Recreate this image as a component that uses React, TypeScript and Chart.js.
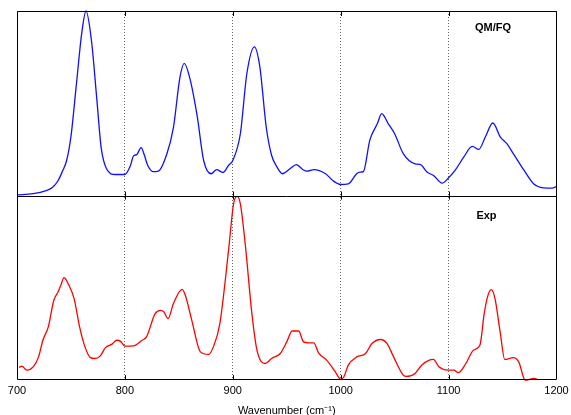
import React, { useEffect, useRef } from "react";
import { Chart, registerables } from "chart.js";

Chart.register(...registerables);

const xTickValues = [700, 800, 900, 1000, 1100, 1200];

const qmWavenumbers = [
  700, 715, 727, 733, 738, 742, 746, 750, 755, 760, 764, 769, 774, 778, 783, 791,
  800, 805, 808, 811, 815, 818, 821, 826, 831, 839, 845, 851, 855, 860, 867, 873,
  880, 885, 891, 896, 900, 907, 913, 920, 925, 931, 936, 941, 946, 953, 959, 965,
  969, 975, 986, 993, 1000, 1007, 1015, 1018, 1021, 1027, 1034, 1038, 1044, 1050,
  1058, 1069, 1074, 1080, 1086, 1094, 1100, 1106, 1114, 1122, 1128, 1134, 1141,
  1148, 1154, 1160, 1170, 1179, 1188, 1196, 1200,
];
const qmIntensity = [
  0.004, 0.01, 0.027, 0.045, 0.08, 0.13, 0.19, 0.32, 0.6, 0.88, 1.0, 0.84, 0.52, 0.26, 0.145, 0.114,
  0.114, 0.16, 0.215, 0.222, 0.26, 0.22, 0.165, 0.13, 0.133, 0.228, 0.37, 0.64, 0.716, 0.64, 0.43, 0.19,
  0.118, 0.14, 0.125, 0.163, 0.19, 0.335, 0.66, 0.806, 0.7, 0.37, 0.217, 0.154, 0.118, 0.145, 0.168, 0.14,
  0.132, 0.141, 0.118, 0.08, 0.06, 0.063, 0.12, 0.127, 0.13, 0.3, 0.39, 0.444, 0.39, 0.335,
  0.227, 0.172, 0.168, 0.127, 0.109, 0.067, 0.096, 0.136, 0.208, 0.266, 0.25, 0.317, 0.393,
  0.317, 0.281, 0.227, 0.136, 0.063, 0.042, 0.04, 0.049,
];

const expWavenumbers = [
  702, 704.5, 709, 715, 720, 724, 729, 734, 738, 741, 743.6, 747.6, 753, 758, 763, 768,
  772, 777, 782, 788, 792.5, 796, 800, 808, 816, 820, 828, 833, 836, 840, 845, 853,
  856, 862, 870, 877.5, 882, 888, 896, 900.7, 904, 907, 911.5, 917.7, 922.4, 930, 936, 944,
  950, 955, 961, 965.6, 970, 975, 979.5, 987, 995, 1000, 1003, 1007, 1015, 1023,
  1029, 1037, 1043, 1049, 1058, 1061, 1069, 1075, 1086, 1091, 1099, 1105, 1109, 1116,
  1123, 1129, 1133, 1136, 1139.5, 1143, 1148, 1152, 1160, 1165, 1171, 1179, 1182,
];
const expIntensity = [
  0.069, 0.076, 0.054, 0.072, 0.126, 0.216, 0.288, 0.43, 0.477, 0.52, 0.555, 0.52, 0.44, 0.288, 0.18, 0.122,
  0.117, 0.13, 0.176, 0.195, 0.216, 0.21, 0.184, 0.185, 0.216, 0.234, 0.36, 0.378, 0.37, 0.333, 0.415, 0.492,
  0.46, 0.324, 0.153, 0.139, 0.18, 0.306, 0.7, 0.955, 0.995, 0.955, 0.739, 0.36, 0.162, 0.09, 0.117, 0.144,
  0.207, 0.266, 0.266, 0.207, 0.202, 0.202, 0.148, 0.108, 0.045, 0.004, 0.018, 0.081, 0.126, 0.144,
  0.198, 0.22, 0.198, 0.126, 0.027, 0.02, 0.036, 0.081, 0.112, 0.072, 0.054, 0.054, 0.04, 0.09,
  0.162, 0.189, 0.36, 0.45, 0.49, 0.442, 0.252, 0.112, 0.122, 0.099, 0.0, 0.009, 0.005,
];

const panelLabels = ["QM/FQ", "Exp"];

const FONT = "'Liberation Sans', Arial, Helvetica, sans-serif";

const framePlugin = {
  id: "frame",
  afterDatasetsDraw(chart: any) {
    const { ctx, chartArea, scales } = chart;
    const { left, right, top, bottom } = chartArea;
    const mid = scales.yExp.top;
    ctx.save();
    ctx.strokeStyle = "#000";
    ctx.lineWidth = 1;
    ctx.beginPath();
    ctx.rect(Math.round(left) + 0.5, Math.round(top) + 0.5, Math.round(right - left) - 1, Math.round(bottom - top) - 1);
    ctx.moveTo(left, Math.round(mid) + 0.5);
    ctx.lineTo(right, Math.round(mid) + 0.5);
    const xs = scales.x;
    for (const t of xs.ticks) {
      const v = t.value;
      if (v <= xs.min || v >= xs.max) continue;
      const px = Math.round(xs.getPixelForValue(v)) + 0.5;
      ctx.moveTo(px, top);
      ctx.lineTo(px, top + 5);
      ctx.moveTo(px, mid - 4);
      ctx.lineTo(px, mid + 4);
      ctx.moveTo(px, bottom);
      ctx.lineTo(px, bottom - 5);
    }
    ctx.stroke();
    ctx.fillStyle = "#000";
    ctx.font = `bold 11px ${FONT}`;
    ctx.textAlign = "center";
    ctx.textBaseline = "middle";
    ctx.fillText(panelLabels[0], right - 63.5, top + 17);
    ctx.fillText(panelLabels[1], right - 70, mid + 20);
    ctx.restore();
  },
};

export default function App() {
  const ref = useRef<HTMLCanvasElement | null>(null);
  useEffect(() => {
    if (!ref.current) return;
    const chart = new Chart(ref.current, {
      type: "line",
      data: {
        datasets: [
          {
            label: panelLabels[0],
            data: qmWavenumbers.map((x, i) => ({ x, y: qmIntensity[i] })),
            borderColor: "#1010ff",
            borderWidth: 1.3,
            pointRadius: 0,
            tension: 0.4,
            cubicInterpolationMode: "monotone",
            yAxisID: "yQM",
            clip: 3,
          },
          {
            label: panelLabels[1],
            data: expWavenumbers.map((x, i) => ({ x, y: expIntensity[i] })),
            borderColor: "#ff0000",
            borderWidth: 1.3,
            pointRadius: 0,
            tension: 0.4,
            cubicInterpolationMode: "monotone",
            yAxisID: "yExp",
            clip: 3,
          },
        ],
      },
      options: {
        animation: false,
        responsive: true,
        maintainAspectRatio: false,
        layout: { padding: { left: 17, right: 14.5, top: 11, bottom: -2.1 } },
        plugins: { legend: { display: false }, tooltip: { enabled: false } },
        scales: {
          x: {
            type: "linear",
            min: 700,
            max: 1200,
            afterBuildTicks: (axis: any) => {
              axis.ticks = xTickValues.map((value) => ({ value }));
            },
            afterFit: (axis: any) => {
              axis.paddingLeft = 0;
              axis.paddingRight = 0;
            },
            ticks: {
              padding: 4,
              color: "#000",
              font: { family: FONT, size: 11 },
              callback: (v: any) => String(v),
            },
            grid: { color: "#666", lineWidth: 1, drawTicks: false },
            border: { display: false, dash: [1, 2] },
            title: {
              display: true,
              text: "Wavenumber (cm⁻¹)",
              color: "#000",
              font: { family: FONT, size: 11 },
              padding: { top: 2.6, bottom: 0 },
            },
          },
          yExp: {
            type: "linear",
            position: "left",
            stack: "panels",
            stackWeight: 1,
            min: 0,
            max: 1,
            display: false,
          },
          yQM: {
            type: "linear",
            position: "left",
            stack: "panels",
            stackWeight: 1,
            min: 0,
            max: 1,
            display: false,
          },
        },
      },
      plugins: [framePlugin],
    } as any);
    return () => chart.destroy();
  }, []);
  return (
    <div style={{ position: "fixed", left: 0, top: 0, width: 571, height: 415, background: "#fff" }}>
      <canvas ref={ref} />
    </div>
  );
}
